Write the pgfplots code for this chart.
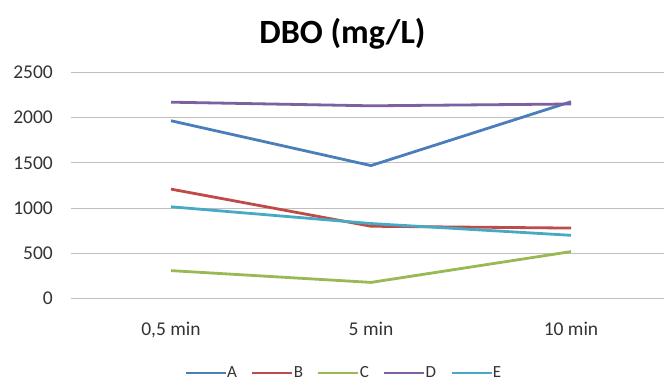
\documentclass[border=0pt]{standalone}
\usepackage{pgfplots}
\pgfplotsset{compat=1.18}
\usepackage{fontspec}
\setmainfont{Carlito}
\definecolor{cA}{HTML}{4A7EBB}
\definecolor{cB}{HTML}{BE4B48}
\definecolor{cC}{HTML}{98B954}
\definecolor{cD}{HTML}{7D60A0}
\definecolor{cE}{HTML}{46AAC5}
\definecolor{gridc}{HTML}{BFBFBF}
\begin{document}
\begin{tikzpicture}
\useasboundingbox (0,0) rectangle (664bp,387bp);
\begin{axis}[
  at={(71bp,88.3bp)}, anchor=south west,
  scale only axis, width=593bp, height=226.4bp,
  xmin=-0.5, xmax=2.465, ymin=0, ymax=2500,
  xtick={0,1,2}, xticklabels={0{,}5 min,5 min,10 min},
  ytick={0,500,1000,1500,2000,2500},
  ymajorgrids, major grid style={gridc, line width=0.9bp},
  axis line style={draw=none},
  tick style={draw=none},
  /pgf/number format/assume math mode=true,
  yticklabel style={font=\fontsize{19.5bp}{22bp}\selectfont, text=black!80, anchor=east, inner sep=0pt, xshift=-18bp},
  xticklabel style={font=\fontsize{19.5bp}{22bp}\selectfont, text=black!80, anchor=base, inner sep=0pt, yshift=-37bp},
  scaled y ticks=false,
  yticklabel={\pgfmathprintnumber[fixed,1000 sep={}]{\tick}},
  legend columns=5,
  legend style={draw=none, fill=none, at={(0.46,-0.328)}, anchor=center,
    font=\fontsize{17bp}{19bp}\selectfont, text=black!80,
    /tikz/every even column/.append style={column sep=12bp},
    /tikz/every odd column/.append style={column sep=-2bp}},
  legend image code/.code={\draw[#1, line width=2.8bp] (0bp,0bp) -- (40bp,0bp);},
  every axis plot/.append style={line width=2.8bp, line join=round},
]
\addplot[cA] coordinates {(0,1965) (1,1470) (2,2175)};
\addlegendentry{A}
\addplot[cB] coordinates {(0,1210) (1,800) (2,780)};
\addlegendentry{B}
\addplot[cC] coordinates {(0,310) (1,180) (2,520)};
\addlegendentry{C}
\addplot[cD] coordinates {(0,2170) (1,2130) (2,2150)};
\addlegendentry{D}
\addplot[cE] coordinates {(0,1015) (1,830) (2,700)};
\addlegendentry{E}
\end{axis}
\node[font=\bfseries\fontsize{34bp}{38bp}\selectfont, text=black, anchor=base] at (342.5bp,343.7bp) {DBO (mg/L)};
\end{tikzpicture}
\end{document}
